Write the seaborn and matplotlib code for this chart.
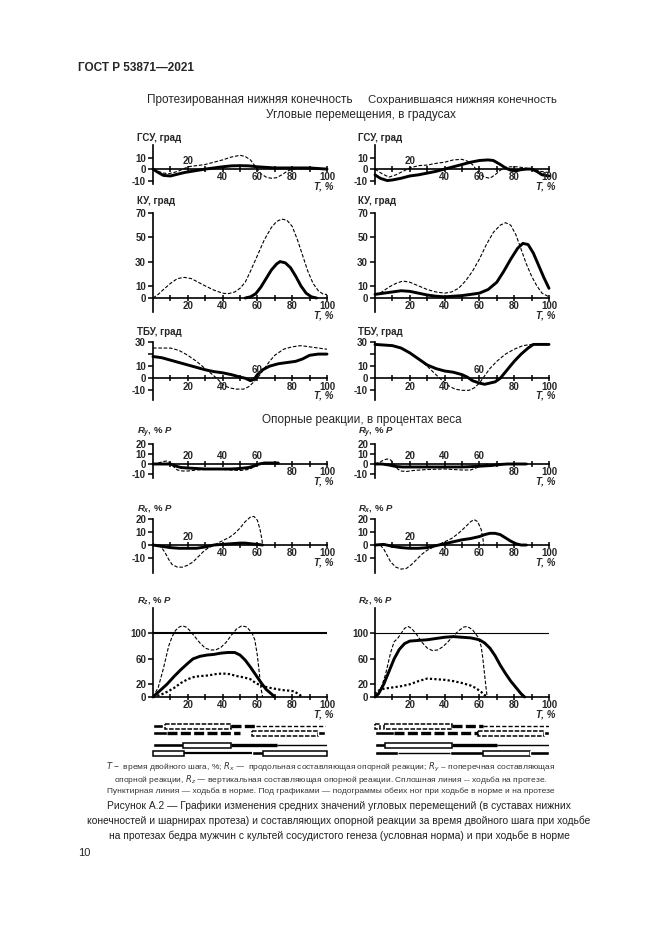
import matplotlib
matplotlib.use("Agg")
import matplotlib.pyplot as plt
import seaborn as sns

sns.set_theme(style="white")
plt.rcParams['font.family'] = ['Liberation Sans', 'DejaVu Sans']
plt.rcParams['mathtext.fontset'] = 'custom'
plt.rcParams['mathtext.it'] = 'Liberation Sans:italic:bold'
plt.rcParams['mathtext.rm'] = 'Liberation Sans:bold'
plt.rcParams['mathtext.bf'] = 'Liberation Sans:bold'

# ---------------- DATA ----------------
x_ticks = [10, 20, 30, 40, 50, 60, 70, 80, 90, 100]
x_labels = [20, 40, 60, 80, 100]

# ГСУ (hip angle)
gsu_L_norm_x = [0, 3, 6, 9, 12, 15, 18, 20, 25, 30, 35, 40, 45, 50, 53, 56, 58, 60, 62, 65, 68, 71, 74, 77, 80, 85, 90, 95, 100]
gsu_L_norm_y = [0, -2, -3.5, -4, -3, -1.5, 0.5, 2, 3, 4, 6, 8, 10.5, 12, 11, 8, 4, 0, -4, -7, -8, -7.5, -5, -2, 0, 0.5, 0.5, 0, 0]
gsu_L_pros_x = [0, 3, 6, 10, 14, 18, 22, 26, 30, 35, 40, 45, 50, 55, 60, 65, 70, 75, 80, 85, 90, 95, 100]
gsu_L_pros_y = [0, -3, -5.5, -6, -4.5, -3, -2, -1, 0, 1, 2, 2.8, 3, 2.8, 2, 1.5, 1, 1, 1, 1, 1, 0.5, 0]
gsu_R_norm_x = [0, 4, 8, 12, 16, 20, 25, 30, 35, 40, 45, 50, 53, 56, 58, 60, 63, 66, 69, 72, 75, 78, 82, 86, 90, 95, 100]
gsu_R_norm_y = [0, -4, -7, -5, -2, 1, 3, 3.5, 5, 6, 8, 8.5, 7, 4, 0, -4, -7, -8, -5, -1, 1.5, 2, 2, 1, 0, -2, -3]
gsu_R_pros_x = [0, 3, 7, 10, 15, 20, 25, 30, 35, 40, 45, 50, 55, 60, 65, 68, 72, 75, 78, 81, 84, 87, 90, 93, 96, 100]
gsu_R_pros_y = [-5, -8, -10, -9.5, -8, -6, -5, -3.5, -2, 0, 2, 4, 6, 7.5, 8, 7.5, 4, 1, -1, -1.5, -0.5, 0, 0, -2, -5, -6]

# КУ (knee angle)
ku_L_norm_x = [0, 3, 6, 10, 14, 18, 22, 26, 30, 35, 40, 43, 47, 50, 53, 56, 60, 64, 68, 71, 74, 77, 80, 83, 86, 89, 92, 95, 98, 100]
ku_L_norm_y = [0, 3, 7, 12, 16, 17, 16, 13, 10, 6.5, 4, 3.5, 5, 8, 13, 22, 35, 48, 58, 63, 65, 64, 59, 48, 35, 22, 12, 6, 3, 3]
ku_L_pros_x = [53, 56, 59, 62, 65, 68, 71, 73, 76, 79, 82, 85, 88, 91, 94]
ku_L_pros_y = [0, 1, 3.5, 9, 16, 23, 28, 30, 29, 25, 18, 10, 4, 1, 0]
ku_R_norm_x = [0, 4, 8, 12, 16, 20, 25, 30, 35, 40, 44, 48, 52, 56, 60, 64, 68, 72, 75, 78, 81, 84, 87, 90, 93, 96, 100]
ku_R_norm_y = [3, 5, 9, 12, 14, 13, 10, 7, 5, 4, 5, 8, 14, 22, 32, 44, 54, 60, 62, 60, 52, 40, 28, 18, 10, 4, 1]
ku_R_pros_x = [0, 5, 10, 15, 20, 25, 30, 35, 40, 45, 50, 55, 60, 65, 70, 74, 78, 82, 85, 88, 91, 94, 97, 100]
ku_R_pros_y = [3, 4, 5, 6, 5.5, 4, 2.5, 1.5, 1, 1.5, 2, 3, 4, 7, 13, 22, 32, 41, 45, 44, 37, 27, 17, 8]

# ТБУ (ankle angle)
tbu_L_norm_x = [0, 5, 10, 15, 20, 25, 30, 35, 38, 41, 44, 48, 52, 55, 58, 61, 64, 67, 70, 75, 80, 85, 90, 95, 100]
tbu_L_norm_y = [25, 25, 25, 23, 19, 14, 8, 2, -2, -6, -8, -9, -9, -7, -3, 2, 8, 14, 19, 24, 26, 27, 26, 25, 24]
tbu_L_pros_x = [0, 5, 10, 15, 20, 25, 30, 35, 40, 45, 50, 53, 56, 58, 60, 63, 67, 72, 77, 82, 86, 90, 95, 100]
tbu_L_pros_y = [18, 17, 15, 13, 11, 9, 7, 5.5, 4.5, 3, 1, 0, -2, -1, 3, 7, 10, 12, 13, 14, 16, 19, 20, 20]
tbu_R_norm_x = [0, 10, 15, 20, 25, 30, 35, 38, 42, 46, 50, 54, 57, 60, 63, 66, 70, 75, 80, 85, 90, 95, 100]
tbu_R_norm_y = [28, 27, 25, 21, 16, 10, 3, -1, -6, -9, -10, -10, -8, -4, 2, 8, 14, 20, 24, 27, 28, 28, 28]
tbu_R_pros_x = [0, 10, 15, 20, 25, 30, 35, 40, 45, 50, 53, 56, 60, 63, 66, 69, 72, 76, 80, 84, 88, 91, 95, 100]
tbu_R_pros_y = [28, 27, 25, 21, 16, 11, 8, 6, 5, 3, 1, -2, -4, -5, -4, -3, 0, 7, 14, 20, 25, 28, 28, 28]

# Ry (lateral reaction)
ry_L_norm_x = [0, 3, 6, 8, 10, 12, 14, 17, 20, 25, 30, 35, 40, 45, 50, 55, 58, 61, 64, 67, 70]
ry_L_norm_y = [0, 1, 2.5, 3, 1, -3, -6, -7, -7, -6, -5.5, -5.5, -5.5, -6, -6.5, -5.5, -3, 0, 1, 1, 1]
ry_L_pros_x = [0, 5, 10, 13, 16, 20, 25, 30, 35, 40, 45, 50, 55, 58, 61, 64, 68, 72]
ry_L_pros_y = [0, 0, 0, -2, -3.5, -4, -4.5, -5, -5, -5, -5, -4.5, -3.5, -2, 0, 1, 1, 1]
ry_R_norm_x = [0, 3, 5, 7, 9, 11, 13, 15, 18, 22, 30, 40, 50, 55, 58, 61, 65]
ry_R_norm_y = [0, 2, 4, 5, 4, 0, -5, -7, -7.5, -6.5, -5.5, -5, -6, -6, -4, -2, 0]
ry_R_pros_x = [0, 4, 8, 12, 16, 20, 30, 40, 50, 57, 62, 67, 72, 76, 80, 87]
ry_R_pros_y = [0, 0, -1, -2.5, -3, -3, -3, -3, -3, -2.5, -2, -1.5, -0.5, 0, 0, 0]

# Rx (longitudinal reaction)
rx_L_norm_x = [0, 3, 5, 7, 9, 11, 14, 17, 20, 23, 26, 29, 32, 35, 38, 41, 44, 47, 50, 53, 56, 58, 60, 61.5, 62.5, 63]
rx_L_norm_y = [0, 0, -2, -6, -11, -15, -17, -17, -15.5, -13, -9, -5, -2, 0, 2, 4, 6, 9, 13, 18, 21.5, 22, 19, 12, 5, 0]
rx_L_pros_x = [0, 5, 10, 15, 20, 25, 30, 35, 40, 45, 50, 53, 56, 60, 63]
rx_L_pros_y = [0, -1, -2, -2.5, -2.5, -2.5, -1.5, 0, 0.5, 1, 1.5, 1.5, 1, 0.5, 0]
rx_R_norm_x = [0, 3, 5, 7, 9, 12, 15, 18, 21, 24, 27, 30, 33, 36, 40, 44, 48, 52, 55, 57, 59, 61, 62, 62.5]
rx_R_norm_y = [0, 0, -3, -8, -13, -17, -18.5, -18, -15, -11, -7, -4, -2, 0, 2.5, 5, 9, 14, 18, 19.5, 18, 12, 5, 0]
rx_R_pros_x = [0, 5, 10, 15, 20, 25, 30, 35, 40, 45, 50, 55, 60, 63, 66, 69, 72, 75, 78, 81, 84, 87]
rx_R_pros_y = [0, 0.5, -1, -2, -2.5, -2.5, -2, -0.5, 1, 2.5, 4, 5, 6.5, 8, 9, 9, 8, 5.5, 3, 1, 0, 0]

# Rz (vertical reaction)
rz_L_norm_x = [0, 3, 6, 9, 11, 13, 15, 17, 19, 21, 24, 27, 30, 33, 36, 39, 42, 45, 48, 51, 54, 57, 58.5, 60, 61, 62, 63]
rz_L_norm_y = [0, 15, 45, 80, 95, 105, 110, 112, 110, 105, 95, 85, 77, 74, 74, 78, 86, 97, 107, 112, 110, 100, 90, 65, 40, 15, 0]
rz_L_pros_x = [0, 4, 8, 12, 16, 20, 23, 27, 31, 35, 39, 43, 47, 50, 53, 56, 59, 62, 65, 68, 70]
rz_L_pros_y = [0, 10, 20, 32, 43, 53, 60, 64, 66, 67, 69, 70, 70, 66, 58, 47, 35, 23, 12, 5, 0]
rz_L_dot_x = [0, 4, 8, 12, 16, 20, 24, 28, 32, 36, 40, 44, 48, 52, 56, 59, 62, 66, 70, 74, 78, 81, 84, 86]
rz_L_dot_y = [0, 3, 8, 14, 22, 28, 32, 33, 34, 36, 37, 36, 33, 31, 28, 22, 18, 15, 13, 11, 10, 9, 4, 0]
rz_R_norm_x = [0, 3, 6, 9, 11, 13, 15, 17, 19, 21, 24, 27, 30, 33, 36, 39, 42, 45, 48, 51, 53, 56, 59, 61, 62, 63, 64, 64.5]
rz_R_norm_y = [0, 10, 35, 70, 87, 92, 100, 108, 111, 108, 98, 86, 77, 73, 74, 79, 87, 96, 104, 110, 111, 106, 95, 80, 60, 35, 10, 0]
rz_R_pros_x = [0, 2, 5, 8, 11, 14, 17, 20, 25, 30, 35, 40, 45, 50, 55, 60, 63, 66, 69, 72, 75, 78, 81, 84, 86]
rz_R_pros_y = [0, 5, 20, 40, 60, 75, 84, 88, 89, 90, 92, 94, 95, 94, 93, 90, 85, 77, 65, 50, 37, 25, 15, 5, 0]
rz_R_dot_x = [0, 2, 5, 10, 15, 20, 25, 30, 35, 40, 45, 50, 55, 58, 61, 63, 65]
rz_R_dot_y = [5, 10, 13, 15, 17, 20, 25, 29, 28, 27, 25, 22, 18, 14, 8, 3, 0]
rz_ref = 100

# Podograms: (start %, end %, kind)
pod_L_norm_1 = [(0, 6, 'black'), (7, 45, 'dbox'), (45, 59, 'dthick'), (59, 99, 'dthin')]
pod_L_norm_2 = [(0, 8, 'black'), (8, 50, 'dthick'), (57, 95, 'dbox'), (95, 99, 'black')]
pod_L_pros_1 = [(0, 17, 'black'), (17, 45, 'box'), (45, 71, 'thick'), (71, 100, 'thin')]
pod_L_pros_2 = [(0, 18, 'box'), (18, 57, 'mid'), (57, 63, 'black'), (63, 100, 'box')]
pod_R_norm_1 = [(0, 3, 'dbox'), (5, 44, 'dbox'), (44, 62, 'dthick'), (62, 100, 'dthin')]
pod_R_norm_2 = [(0, 11, 'black'), (11, 59, 'dthick'), (59, 97, 'dbox'), (97, 100, 'black')]
pod_R_pros_1 = [(0, 6, 'black'), (6, 44, 'box'), (44, 70, 'thick'), (70, 100, 'thin')]
pod_R_pros_2 = [(0, 13, 'black'), (13, 43, 'thin'), (43, 62, 'black'), (62, 89, 'box'), (89, 100, 'black')]

# ---------------- LAYOUT ----------------
W, H = 661, 935
fig = plt.figure(figsize=(W / 100, H / 100), dpi=100)
fig.patch.set_facecolor('white')

COLS = [(153, 327), (375, 549)]
TITLE_X = [137, 358]

def add_ax(x0, x1, ytop, ybot):
    return fig.add_axes([x0 / W, 1 - ybot / H, (x1 - x0) / W, (ybot - ytop) / H])

def ftext(x, y, s, **kw):
    fig.text(x / W, 1 - y / H, s, **kw)

DASH = (0, (3.2, 1.6))
DOT = (0, (1, 1))

def draw(ax, xs, ys, kind):
    if kind == 'norm':
        sns.lineplot(x=xs, y=ys, ax=ax, color='black', linewidth=0.8, linestyle=DASH,
                     estimator=None, sort=False, clip_on=False)
    elif kind == 'pros':
        sns.lineplot(x=xs, y=ys, ax=ax, color='black', linewidth=2.1,
                     estimator=None, sort=False, clip_on=False, solid_capstyle='round')
    else:
        sns.lineplot(x=xs, y=ys, ax=ax, color='black', linewidth=1.6, linestyle=DOT,
                     estimator=None, sort=False, clip_on=False)

def panel(col, ytop, ybot, ylim, yticks, ylabels, above, title, ty, series, tsize=7, tpad=-12.5):
    x0, x1 = COLS[col]
    ax = add_ax(x0, x1, ytop, ybot)
    ax.patch.set_alpha(0)
    for xs, ys, kind in series:
        draw(ax, xs, ys, kind)
    ax.set_xlim(0, 100)
    ax.set_ylim(*ylim)
    ax.set_xlabel('')
    ax.set_ylabel('')
    ax.grid(False)
    for s in ['top', 'right']:
        ax.spines[s].set_visible(False)
    ax.spines['bottom'].set_position(('data', 0))
    for s in ['left', 'bottom']:
        ax.spines[s].set_linewidth(1.2)
        ax.spines[s].set_color('black')
    ax.set_xticks(x_ticks)
    ax.set_xticklabels([])
    ax.tick_params(axis='x', direction='inout', length=5, width=1.1, color='black', bottom=True)
    ax.set_yticks(yticks)
    ax.set_yticklabels(ylabels, fontsize=7, fontweight='bold')
    ax.tick_params(axis='y', direction='out', length=3.5, width=1.1, pad=1.5, color='black', left=True)
    for v in x_labels:
        off = 5.8 if v in above else -6.0
        ax.annotate(str(v), (v, 0), xytext=(0, off), textcoords='offset points',
                    ha='center', va='center', fontsize=7, fontweight='bold', annotation_clip=False)
    ax.annotate('T, %', (100, 0), xytext=(4.5, tpad), textcoords='offset points',
                ha='right', va='center', fontsize=7, fontweight='bold', style='italic',
                annotation_clip=False)
    ftext(TITLE_X[col], ty, title, fontsize=tsize, fontweight='bold', va='center', ha='left')
    return ax

# Row 1: ГСУ
panel(0, 145, 184, (-13, 21), [-10, 0, 10], ['-10', '0', '10'], [20], 'ГСУ, град', 138,
      [(gsu_L_norm_x, gsu_L_norm_y, 'norm'), (gsu_L_pros_x, gsu_L_pros_y, 'pros')])
panel(1, 145, 184, (-13, 21), [-10, 0, 10], ['-10', '0', '10'], [20], 'ГСУ, град', 138,
      [(gsu_R_norm_x, gsu_R_norm_y, 'norm'), (gsu_R_pros_x, gsu_R_pros_y, 'pros')])

# Row 2: КУ
panel(0, 213, 312, (-11.5, 70), [0, 10, 30, 50, 70], ['0', '10', '30', '50', '70'], [], 'КУ, град', 201,
      [(ku_L_norm_x, ku_L_norm_y, 'norm'), (ku_L_pros_x, ku_L_pros_y, 'pros')])
panel(1, 213, 312, (-11.5, 70), [0, 10, 30, 50, 70], ['0', '10', '30', '50', '70'], [], 'КУ, град', 201,
      [(ku_R_norm_x, ku_R_norm_y, 'norm'), (ku_R_pros_x, ku_R_pros_y, 'pros')])

# Row 3: ТБУ
panel(0, 342, 400, (-18, 30), [-10, 0, 10, 20, 30], ['-10', '0', '10', '', '30'], [60], 'ТБУ, град', 332,
      [(tbu_L_norm_x, tbu_L_norm_y, 'norm'), (tbu_L_pros_x, tbu_L_pros_y, 'pros')])
panel(1, 342, 400, (-18, 30), [-10, 0, 10, 20, 30], ['-10', '0', '10', '', '30'], [60], 'ТБУ, град', 332,
      [(tbu_R_norm_x, tbu_R_norm_y, 'norm'), (tbu_R_pros_x, tbu_R_pros_y, 'pros')])

# Row 4: Ry
panel(0, 444, 478, (-14, 20), [-10, 0, 10, 20], ['-10', '0', '10', '20'], [20, 40, 60], r'$R_y$, % $P$', 433,
      [(ry_L_norm_x, ry_L_norm_y, 'norm'), (ry_L_pros_x, ry_L_pros_y, 'pros')], tsize=6.8)
panel(1, 444, 478, (-14, 20), [-10, 0, 10, 20], ['-10', '0', '10', '20'], [20, 40, 60], r'$R_y$, % $P$', 433,
      [(ry_R_norm_x, ry_R_norm_y, 'norm'), (ry_R_pros_x, ry_R_pros_y, 'pros')], tsize=6.8)

# Row 5: Rx
panel(0, 519, 573, (-21.5, 20), [-10, 0, 10, 20], ['-10', '0', '10', '20'], [20], r'$R_x$, % $P$', 508,
      [(rx_L_norm_x, rx_L_norm_y, 'norm'), (rx_L_pros_x, rx_L_pros_y, 'pros')], tsize=6.8)
panel(1, 519, 573, (-21.5, 20), [-10, 0, 10, 20], ['-10', '0', '10', '20'], [20], r'$R_x$, % $P$', 508,
      [(rx_R_norm_x, rx_R_norm_y, 'norm'), (rx_R_pros_x, rx_R_pros_y, 'pros')], tsize=6.8)

# Row 6: Rz
axL = panel(0, 608, 697, (0, 140), [0, 20, 60, 100], ['0', '20', '60', '100'], [], r'$R_z$, % $P$', 601,
            [(rz_L_norm_x, rz_L_norm_y, 'norm'), (rz_L_pros_x, rz_L_pros_y, 'pros'), (rz_L_dot_x, rz_L_dot_y, 'dot')],
            tsize=6.8)
axR = panel(1, 608, 697, (0, 140), [0, 20, 60, 100], ['0', '20', '60', '100'], [], r'$R_z$, % $P$', 601,
            [(rz_R_norm_x, rz_R_norm_y, 'norm'), (rz_R_pros_x, rz_R_pros_y, 'pros'), (rz_R_dot_x, rz_R_dot_y, 'dot')],
            tsize=6.8)
axL.axhline(rz_ref, color='black', lw=1.5)
axR.axhline(rz_ref, color='black', lw=0.8)

# Podograms
def podogram(col, rows):
    x0, x1 = COLS[col]
    ax = add_ax(x0, x1, 720, 760)
    ax.set_xlim(0, 100)
    ax.set_ylim(40, 0)
    ax.axis('off')
    for yrow, segs in rows:
        for s, e, kind in segs:
            if kind == 'black':
                ax.barh(yrow, e - s, left=s, height=4, color='black', clip_on=False)
            elif kind in ('box', 'dbox'):
                ax.barh(yrow, e - s, left=s, height=5, facecolor='white', edgecolor='black',
                        linewidth=1.1, linestyle='-' if kind == 'box' else (0, (3, 1)), clip_on=False)
            elif kind == 'thick':
                ax.hlines(yrow, s, e, color='black', lw=2.4)
            elif kind == 'mid':
                ax.hlines(yrow, s, e, color='black', lw=1.6)
            elif kind == 'thin':
                ax.hlines(yrow, s, e, color='black', lw=1.0)
            elif kind == 'dthick':
                ax.hlines(yrow, s, e, color='black', lw=2.4, linestyles=[(0, (3, 1))])
            elif kind == 'dthin':
                ax.hlines(yrow, s, e, color='black', lw=1.0, linestyles=[(0, (3, 1.5))])

podogram(0, [(6, pod_L_norm_1), (13, pod_L_norm_2), (25, pod_L_pros_1), (33, pod_L_pros_2)])
podogram(1, [(6, pod_R_norm_1), (13, pod_R_norm_2), (25, pod_R_pros_1), (33, pod_R_pros_2)])

# ---------------- TEXT ----------------
ftext(78, 68, 'ГОСТ Р 53871—2021', fontsize=8.5, fontweight='bold', va='center', ha='left')
ftext(250, 100, 'Протезированная нижняя конечность', fontsize=8.5, va='center', ha='center')
ftext(462, 100, 'Сохранившаяся нижняя конечность', fontsize=8.2, va='center', ha='center')
ftext(361, 115, 'Угловые перемещения, в градусах', fontsize=8.5, va='center', ha='center')
ftext(362, 420, 'Опорные реакции, в процентах веса', fontsize=8.5, va='center', ha='center')

cap_small = [
    r'$T$ −  время двойного шага, %; $R_x$ —  продольная составляющая опорной реакции; $R_y$ -- поперечная составляющая',
    r'опорной реакции, $R_z$ — вертикальная составляющая опорной реакции. Сплошная линия -- ходьба на протезе.',
    'Пунктирная линия — ходьба в норме. Под графиками — подограммы обеих ног при ходьбе в норме и на протезе',
]
for i, line in enumerate(cap_small):
    fig.text(331 / W, 1 - (767 + 12 * i) / H, line, fontsize=6, color='#333333', va='center', ha='center',
             math_fontfamily='dejavusans')

cap_fig = [
    'Рисунок А.2 — Графики изменения средних значений угловых перемещений (в суставах нижних',
    'конечностей и шарнирах протеза) и составляющих опорной реакции за время двойного шага при ходьбе',
    'на протезах бедра мужчин с культей сосудистого генеза (условная норма) и при ходьбе в норме',
]
for i, line in enumerate(cap_fig):
    ftext(339, 806 + 15 * i, line, fontsize=7.35, color='#222222', va='center', ha='center')

ftext(78, 853, '10', fontsize=8, va='center', ha='left')

fig.savefig('out.png', dpi=100, facecolor='white')
